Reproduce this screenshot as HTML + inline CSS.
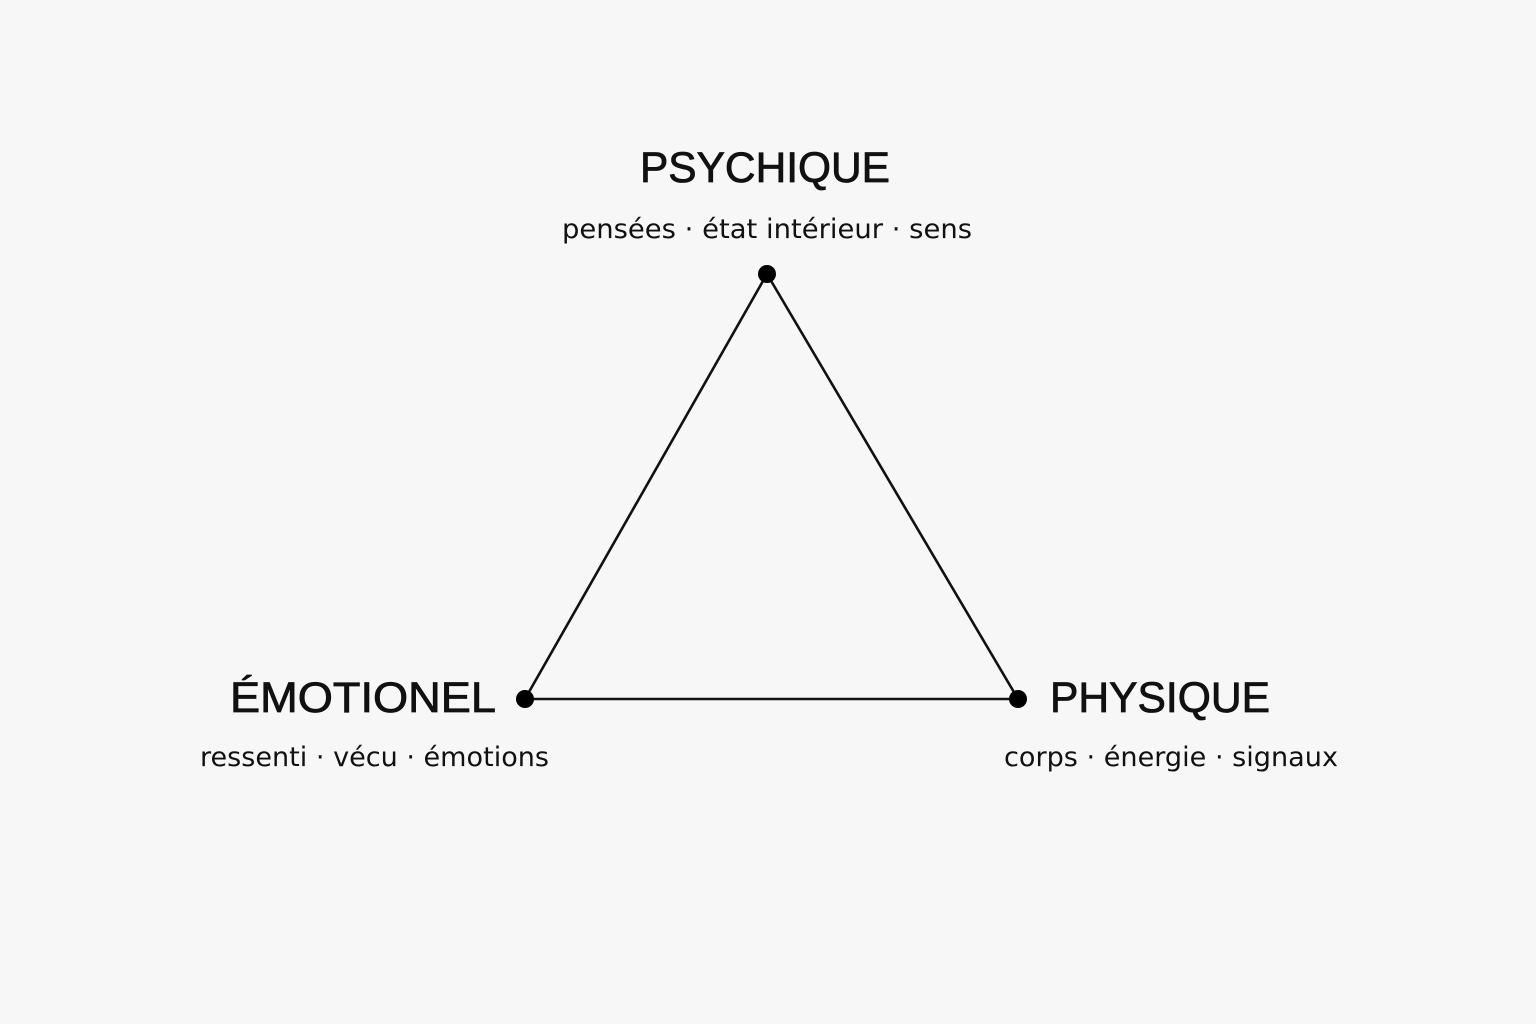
<!DOCTYPE html>
<html><head><meta charset="utf-8"><style>
html,body{margin:0;padding:0;background:#f7f7f7;}
svg{display:block;}
.h{font-family:"Liberation Sans",sans-serif;font-size:43px;fill:#111;stroke:#111;stroke-width:0.8;}
.s{font-family:"DejaVu Sans","Liberation Sans",sans-serif;font-size:27px;fill:#111;}
</style></head><body>
<svg width="1536" height="1024" viewBox="0 0 1536 1024" xmlns="http://www.w3.org/2000/svg">
<rect width="1536" height="1024" fill="#f7f7f7"/>
<polygon points="767,274 525,699 1018,699" fill="none" stroke="#111" stroke-width="2.6" stroke-linejoin="round"/>
<circle cx="767" cy="274" r="9" fill="#000"/>
<circle cx="525" cy="699" r="9" fill="#000"/>
<circle cx="1018" cy="699" r="9" fill="#000"/>
<text class="h" x="640" y="182" textLength="250" lengthAdjust="spacingAndGlyphs">PSYCHIQUE</text>
<text class="s" x="562" y="238" textLength="410" lengthAdjust="spacingAndGlyphs">pensées · état intérieur · sens</text>
<text class="h" x="230" y="712" textLength="266" lengthAdjust="spacingAndGlyphs">ÉMOTIONEL</text>
<text class="s" x="200" y="766" textLength="349" lengthAdjust="spacingAndGlyphs">ressenti · vécu · émotions</text>
<text class="h" x="1050" y="712" textLength="220" lengthAdjust="spacingAndGlyphs">PHYSIQUE</text>
<text class="s" x="1004" y="766" textLength="334" lengthAdjust="spacingAndGlyphs">corps · énergie · signaux</text>
</svg>
</body></html>
